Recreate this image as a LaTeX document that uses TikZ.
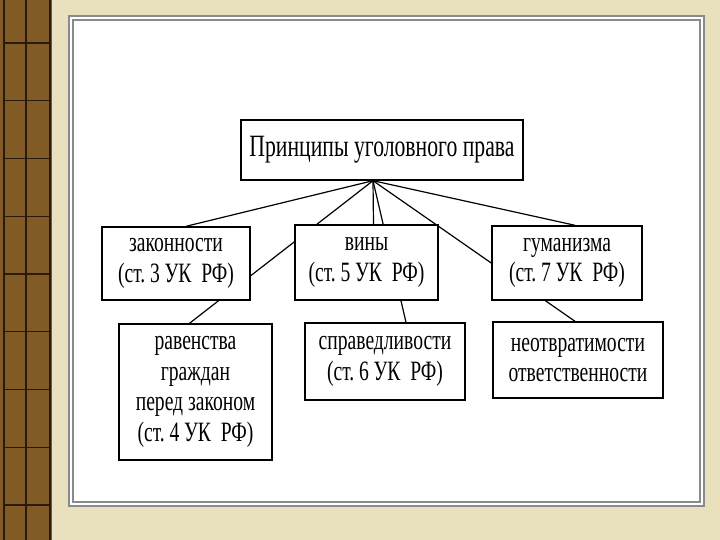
\documentclass[tikz,border=0pt]{standalone}
\usepackage{fontspec}
\setmainfont{Liberation Serif}[FakeStretch=0.7]
\usetikzlibrary{positioning}

\definecolor{parchment}{HTML}{E9E1BE}
\definecolor{stripebrown}{HTML}{825A26}
\definecolor{stripeline}{HTML}{2A1A0C}
\definecolor{framegray}{HTML}{8A8A8A}

\pgfdeclarelayer{paper}
\pgfdeclarelayer{lines}
\pgfsetlayers{paper,lines,main}

\tikzset{
  principle/.style={draw, fill=white, line width=1.4, align=center, inner sep=0pt,
    font=\fontsize{28}{30.5}\selectfont},
  branch/.style={line width=1.2}
}

\begin{document}
\begin{tikzpicture}[x=1pt, y=-1pt]
  \useasboundingbox (0,0) rectangle (720,540);
  % background
  \begin{pgfonlayer}{paper}
    \fill[parchment] (0,0) rectangle (720,540);
    \fill[stripebrown] (0,0) rectangle (52,540);
    \draw[stripeline, line width=1.5] (4,0) -- (4,540) (26,0) -- (26,540) (50,0) -- (50,540);
    \foreach \y in {43,100.75,...,510}
      \draw[stripeline, line width=1.2] (4,\y) -- (50,\y);
    \fill[white] (69,16) rectangle (704,506);
    \draw[framegray, line width=1.3] (69,16) rectangle (704,506);
    \draw[framegray, line width=1.3] (73,20) rectangle (700,502);
  \end{pgfonlayer}

  % nodes
  \node[principle, minimum width=282, minimum height=60, font=\fontsize{31}{34}\selectfont]
    (root) at (382,150) {Принципы уголовного права};
  \coordinate (hub) at ([xshift=-9pt]root.south);

  \node[principle, minimum width=148, minimum height=73] (zak) at (176,263.5)
    {законности\\(ст.~3\,УК~~РФ)};
  \node[principle, minimum width=143, minimum height=75] (vin) at (366.5,262.5)
    {вины\\(ст.~5\,УК~~РФ)};
  \node[principle, minimum width=150, minimum height=74] (gum) at (567,263)
    {гуманизма\\(ст.~7\,УК~~РФ)};
  \node[principle, minimum width=153, minimum height=136] (rav) at (195.5,392)
    {равенства\\граждан\\перед законом\\(ст.~4\,УК~~РФ)};
  \node[principle, minimum width=160, minimum height=77] (spr) at (385,361.5)
    {справедливости\\(ст.~6\,УК~~РФ)};
  \node[principle, minimum width=170, minimum height=76] (neo) at (578,360)
    {неотвратимости\\ответственности};

  % connectors, behind the boxes
  \begin{pgfonlayer}{lines}
    \draw[branch] (hub) -- ([xshift=10pt]zak.north);
    \draw[branch] (hub) -- ([xshift=-6pt]rav.north);
    \draw[branch] (hub) -- ([xshift=7pt]vin.north);
    \draw[branch] (hub) -- ([xshift=21pt]spr.north);
    \draw[branch] (hub) -- ([xshift=8pt]gum.north);
    \draw[branch] (hub) -- ([xshift=-3pt]neo.north);
  \end{pgfonlayer}
\end{tikzpicture}
\end{document}
